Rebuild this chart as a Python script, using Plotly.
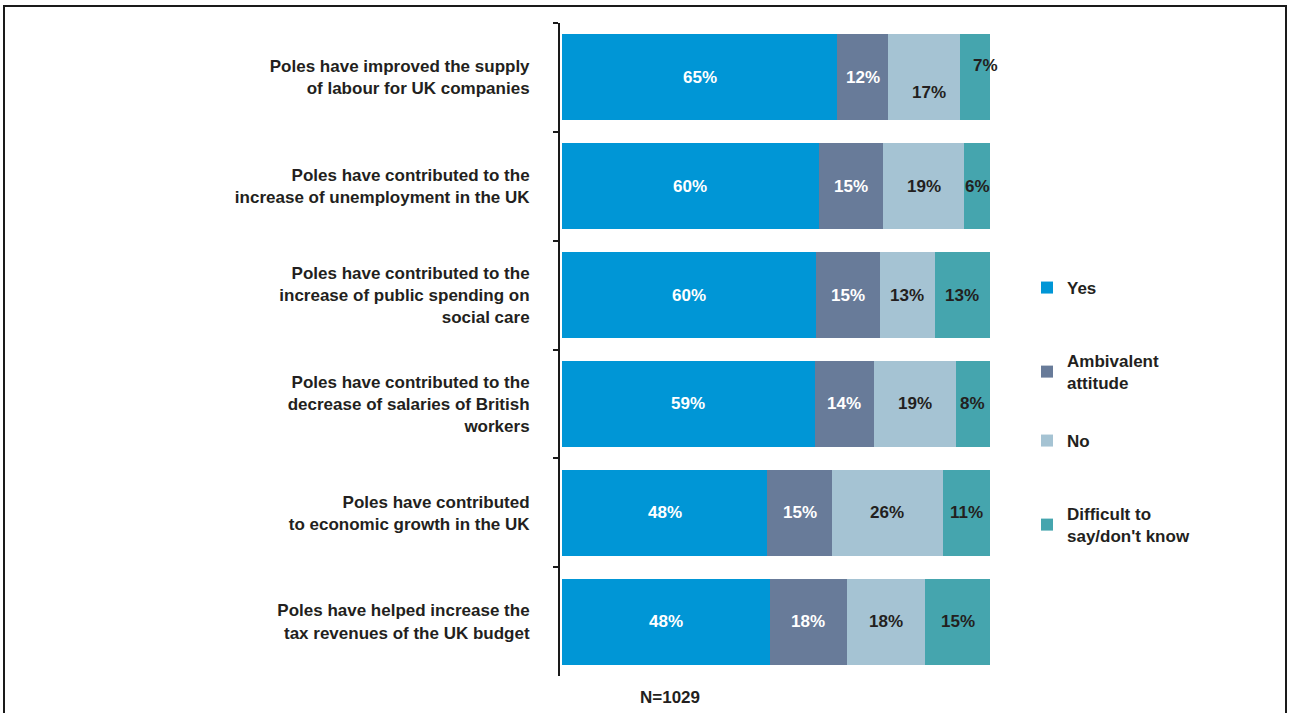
import plotly.graph_objects as go

categories = [
    "Poles have improved the supply<br>of labour for UK companies",
    "Poles have contributed to the<br>increase of unemployment in the UK",
    "Poles have contributed to the<br>increase of public spending on<br>social care",
    "Poles have contributed to the<br>decrease of salaries of British<br>workers",
    "Poles have contributed<br>to economic growth in the UK",
    "Poles have helped increase the<br>tax revenues of the UK budget",
]
yes = [65, 60, 60, 59, 48, 48]
ambivalent = [12, 15, 15, 14, 15, 18]
no = [17, 19, 13, 19, 26, 18]
difficult = [7, 6, 13, 8, 11, 15]

series_names = ["Yes", "Ambivalent<br>attitude", "No", "Difficult to<br>say/don't know"]
series_values = [yes, ambivalent, no, difficult]
colors = ["#0096D6", "#687B99", "#A5C3D3", "#45A5AE"]
text_colors = ["#FFFFFF", "#FFFFFF", "#231F20", "#231F20"]

FONT = "Liberation Sans, Arial, sans-serif"
FS = 17

W, H = 1289, 713
L, R, T, B = 560, W - 990, 23, H - 676
pw, ph = W - L - R, H - T - B

legend_ids = ["legend", "legend2", "legend3", "legend4"]
legend_tops = [270, 343, 423, 496]  # pixel top of each legend box

fig = go.Figure()
for i, (name, vals) in enumerate(zip(series_names, series_values)):
    fig.add_trace(go.Bar(
        y=categories, x=vals, name=name, orientation="h",
        marker=dict(color=colors[i], line=dict(width=0)),
        legend=legend_ids[i],
        hoverinfo="x+name",
    ))

# segment labels, placed at the centre of each normalised segment
label_shift = {(0, 2): (5, -15), (0, 3): (10, 12)}
for r, cat in enumerate(categories):
    total = sum(s[r] for s in series_values)
    cum = 0
    for i, s in enumerate(series_values):
        v = s[r]
        centre = (cum + v / 2) / total * 100
        cum += v
        dx, dy = label_shift.get((r, i), (0, 0))
        fig.add_annotation(
            x=centre, y=cat, text=f"<b>{v}%</b>", showarrow=False,
            xshift=dx, yshift=dy,
            font=dict(family=FONT, size=FS, color=text_colors[i]),
        )

fig.add_annotation(
    x=(670 - L) / pw, y=-(697 - 676) / ph, xref="paper", yref="paper",
    xanchor="center", yanchor="middle",
    text="<b>N=1029</b>", showarrow=False,
    font=dict(family=FONT, size=FS, color="#231F20"),
)

fig.add_shape(
    type="rect", xref="paper", yref="paper",
    x0=(4 - L) / pw, x1=(1286 - L) / pw,
    y0=-(730 - 676) / ph, y1=1 + (T - 6) / ph,
    line=dict(color="#1a1a1a", width=2),
)

legend_font = dict(family=FONT, size=FS, color="#231F20", weight="bold")
layout_legends = {}
for lid, top in zip(legend_ids, legend_tops):
    layout_legends[lid] = dict(
        x=(1027 - L) / pw, xanchor="left",
        y=1 - (top - T) / ph, yanchor="top",
        font=legend_font, bgcolor="rgba(0,0,0,0)",
    )

fig.update_layout(
    width=W, height=H,
    margin=dict(l=L, r=R, t=T, b=B),
    barmode="stack", barnorm="percent", bargap=0.21,
    paper_bgcolor="white", plot_bgcolor="white",
    font=dict(family=FONT, size=FS, color="#231F20", weight="bold"),
    showlegend=True,
    xaxis=dict(
        range=[-0.47, 100], showgrid=False, zeroline=False,
        showticklabels=False, showline=False, fixedrange=True,
    ),
    yaxis=dict(
        autorange="reversed", showgrid=False, zeroline=False,
        showline=True, linecolor="#1a1a1a", linewidth=2,
        ticks="outside", tickson="boundaries", ticklen=5,
        tickcolor="#1a1a1a", tickwidth=2,
        ticklabelstandoff=25,
        tickfont=dict(family=FONT, size=FS, color="#231F20", weight="bold"),
    ),
    **layout_legends,
)

fig.write_html(
    "out.html",
    config={"displayModeBar": False},
    post_script="document.body.style.margin='0px';",
)
